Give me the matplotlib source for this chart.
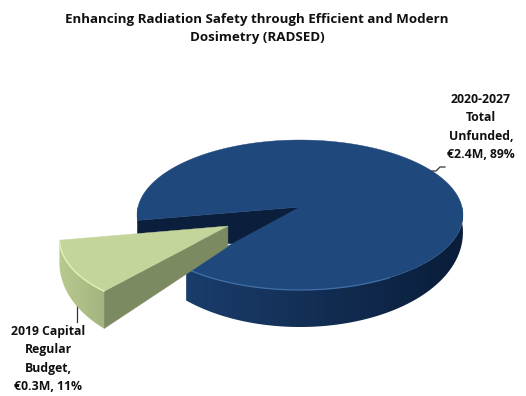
import numpy as np
import matplotlib
matplotlib.use("Agg")
import matplotlib.pyplot as plt
from matplotlib.colors import LinearSegmentedColormap
from matplotlib.patches import Polygon

labels = ["2020-2027\nTotal\nUnfunded,\n€2.4M, 89%", "2019 Capital\nRegular\nBudget,\n€0.3M, 11%"]
shares = [89, 11]
title = "Enhancing Radiation Safety through Efficient and Modern\nDosimetry (RADSED)"

# pie placement on the canvas, in pixels
CX, CY = 300, 207
RX, RY = 162, 74.15
TILT = 0.1067
EXPLODE = 0.5


# tilted disc coordinates to canvas pixels, near edge drawn larger
def project(x, y):
    w = 1 + TILT * y
    return CX + RX * x / w, CY - RY * y / w


def depth(y):
    return 15 - 22 * y


def arc(a1, a2, dx=0, dy=0):
    t = np.radians(np.linspace(a1, a2, 200))
    return np.cos(t) + dx, np.sin(t) + dy


# top face of a sector with its apex at (dx, dy)
def draw_top(ax, a1, a2, color, dx=0, dy=0, z=1):
    x, y = arc(a1, a2, dx, dy)
    sx, sy = project(np.r_[dx, x], np.r_[dy, y])
    ax.fill(sx, sy, color=color, lw=0.3, zorder=z)


# outer wall, a left to right gradient clipped to the wall outline
def draw_wall(ax, a1, a2, c1, c2, dx=0, dy=0, z=1):
    x, y = arc(a1, a2, dx, dy)
    sx, sy = project(x, y)
    by = sy + depth(y)
    outline = np.c_[np.r_[sx, sx[::-1]], np.r_[sy, by[::-1]]]
    cmap = LinearSegmentedColormap.from_list("wall", [c1, c2])
    grad = np.linspace(0, 1, 256)[None, :]
    img = ax.imshow(grad, cmap=cmap, aspect="auto", zorder=z,
                    extent=[sx.min(), sx.max(), by.max() + 1, sy.min() - 1])
    img.set_clip_path(Polygon(outline, closed=True, transform=ax.transData))


# flat wall along a cut edge, from the apex out to the rim
def draw_cut(ax, angle, color, dx=0, dy=0, apex_depth=None, z=1):
    t = np.radians(angle)
    x = np.array([dx, dx + np.cos(t)])
    y = np.array([dy, dy + np.sin(t)])
    sx, sy = project(x, y)
    d = depth(y)
    if apex_depth is not None:
        d[0] = apex_depth
    ax.fill([sx[0], sx[1], sx[1], sx[0]],
            [sy[0], sy[1], sy[1] + d[1], sy[0] + d[0]],
            color=color, lw=0.3, zorder=z)


def rim(ax, a1, a2, color, lw, dx=0, dy=0, z=1):
    x, y = arc(a1, a2, dx, dy)
    sx, sy = project(x, y)
    ax.plot(sx, sy, color=color, lw=lw, zorder=z, solid_capstyle="round")


def main():
    fig = plt.figure(figsize=(5.26, 3.96), dpi=100)
    ax = fig.add_axes([0, 0, 1, 1])

    # small slice is centred on 210 degrees, the big one fills the rest
    sweep = 360 * shares[1] / sum(shares)
    mid = 210
    a1, a2 = mid - sweep / 2, mid + sweep / 2
    dx = EXPLODE * np.cos(np.radians(mid))
    dy = EXPLODE * np.sin(np.radians(mid))

    # main pie
    draw_cut(ax, a1, "#0b1f3c", apex_depth=40, z=1)
    draw_wall(ax, 180, a1, "#0f2848", "#0f2848", z=1)
    draw_wall(ax, a2, 360, "#1a3d6b", "#0a1d3a", z=2)
    draw_top(ax, a2, a1 + 360, "#1f497d", z=3)
    rim(ax, a2, 300, "#3f6fa6", 0.9, z=4)

    # pulled out slice
    draw_cut(ax, a2, "#7c8a62", dx, dy, z=5)
    draw_wall(ax, a1, a2, "#b9ca90", "#a3b47f", dx, dy, z=5)
    draw_top(ax, a1, a2, "#c3d59a", dx, dy, z=6)
    rim(ax, a1, a2, "#e2f2b4", 1.0, dx, dy, z=7)

    # leader lines
    ax.plot([432, 436, 440, 445], [171, 171, 167, 167], color="#333333", lw=0.9, zorder=8)
    ax.plot([77, 77], [303, 322], color="#333333", lw=0.9, zorder=4)

    font = ["Open Sans", "DejaVu Sans"]
    ax.text(257, 29, title, ha="center", va="center", fontsize=9.6, fontweight="bold",
            family=font, linespacing=1.5, color="#111111")
    ax.text(481, 127, labels[0], ha="center", va="center", fontsize=8.8, fontweight="bold",
            family=font, linespacing=1.52, color="#111111")
    ax.text(48, 359, labels[1], ha="center", va="center", fontsize=8.8, fontweight="bold",
            family=font, linespacing=1.52, color="#111111")

    ax.set_xlim(0, 526)
    ax.set_ylim(396, 0)
    ax.axis("off")
    fig.savefig("out.png", dpi=100)


if __name__ == "__main__":
    main()
